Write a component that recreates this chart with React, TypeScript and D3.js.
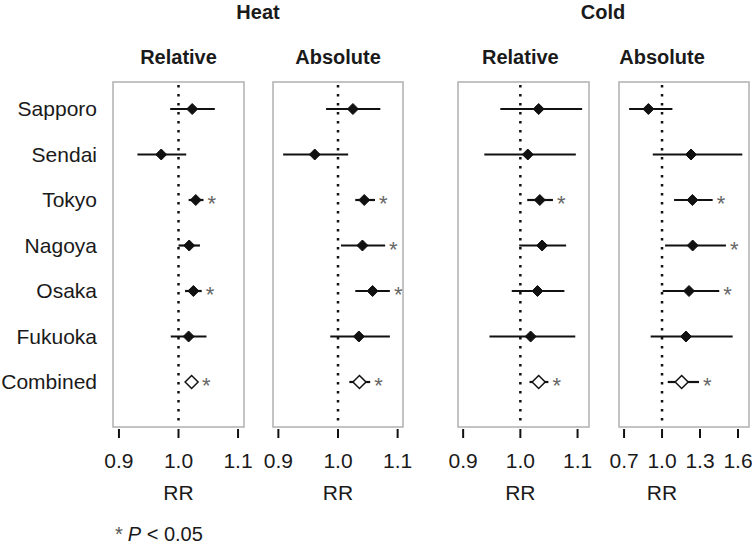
import React from 'react';
import * as d3 from 'd3';

// Cities (rows, top to bottom)
const cities = ['Sapporo', 'Sendai', 'Tokyo', 'Nagoya', 'Osaka', 'Fukuoka', 'Combined'];

// Heat - Relative
const heatRelRR = [1.023, 0.971, 1.029, 1.018, 1.025, 1.017, 1.022];
const heatRelLo = [0.986, 0.931, 1.017, 1.0, 1.011, 0.987, 1.019];
const heatRelHi = [1.061, 1.013, 1.042, 1.036, 1.039, 1.047, 1.025];
const heatRelSig = [false, false, true, false, true, false, true];

// Heat - Absolute
const heatAbsRR = [1.025, 0.961, 1.044, 1.041, 1.058, 1.035, 1.036];
const heatAbsLo = [0.98, 0.908, 1.029, 1.005, 1.029, 0.987, 1.019];
const heatAbsHi = [1.071, 1.017, 1.062, 1.079, 1.087, 1.087, 1.054];
const heatAbsSig = [false, false, true, true, true, false, true];

// Cold - Relative
const coldRelRR = [1.032, 1.013, 1.034, 1.038, 1.03, 1.018, 1.032];
const coldRelLo = [0.965, 0.937, 1.012, 0.998, 0.985, 0.946, 1.016];
const coldRelHi = [1.108, 1.097, 1.057, 1.08, 1.077, 1.096, 1.049];
const coldRelSig = [false, false, true, false, false, false, true];

// Cold - Absolute
const coldAbsRR = [0.892, 1.229, 1.24, 1.242, 1.213, 1.189, 1.155];
const coldAbsLo = [0.74, 0.927, 1.095, 1.024, 1.005, 0.91, 1.045];
const coldAbsHi = [1.082, 1.634, 1.4, 1.505, 1.452, 1.558, 1.292];
const coldAbsSig = [false, false, true, true, true, false, true];

const smallTicks = [0.9, 1.0, 1.1];
const wideTicks = [0.7, 1.0, 1.3, 1.6];

const FONT = '"Liberation Sans", Arial, Helvetica, sans-serif';

interface PanelDef {
  title: string;
  left: number;
  right: number;
  domain: [number, number];
  ticks: number[];
  rr: number[];
  lo: number[];
  hi: number[];
  sig: boolean[];
}

const panels: PanelDef[] = [
  { title: 'Relative', left: 113, right: 244, domain: [0.89, 1.11], ticks: smallTicks, rr: heatRelRR, lo: heatRelLo, hi: heatRelHi, sig: heatRelSig },
  { title: 'Absolute', left: 273, right: 403, domain: [0.891, 1.109], ticks: smallTicks, rr: heatAbsRR, lo: heatAbsLo, hi: heatAbsHi, sig: heatAbsSig },
  { title: 'Relative', left: 458, right: 589, domain: [0.891, 1.12], ticks: smallTicks, rr: coldRelRR, lo: coldRelLo, hi: coldRelHi, sig: coldRelSig },
  { title: 'Absolute', left: 619, right: 749, domain: [0.66, 1.687], ticks: wideTicks, rr: coldAbsRR, lo: coldAbsLo, hi: coldAbsHi, sig: coldAbsSig },
];

const top = 82;
const bottom = 427;

const y = d3.scalePoint<string>().domain(cities).range([109, 382]);

const Panel: React.FC<{ p: PanelDef }> = ({ p }) => {
  const x = d3.scaleLinear().domain(p.domain).range([p.left, p.right]);
  return (
    <g>
      <text x={x(1)} y={64} textAnchor="middle" fontWeight="bold" fontSize={20} fill="#1a1a1a">{p.title}</text>
      <rect x={p.left} y={top} width={p.right - p.left} height={bottom - top} fill="none" stroke="#b0b0b0" strokeWidth={1.5} />
      <line x1={x(1)} x2={x(1)} y1={top + 3} y2={bottom} stroke="#111" strokeWidth={2.5} strokeDasharray="2.5 6.5" />
      {p.ticks.map(t => (
        <g key={t}>
          <line x1={x(t)} x2={x(t)} y1={bottom + 2} y2={bottom + 11} stroke="#111" strokeWidth={2} />
          <text x={x(t)} y={468} textAnchor="middle" fontSize={21} fill="#1a1a1a">{t.toFixed(1)}</text>
        </g>
      ))}
      <text x={x(1)} y={500} textAnchor="middle" fontSize={21} fill="#1a1a1a">RR</text>
      {cities.map((c, i) => {
        const yy = y(c) as number;
        const open = c === 'Combined';
        const s = open ? 6.5 : 5.5;
        const px = x(p.rr[i]);
        const starX = Math.max(x(p.hi[i]), px + s) + 4;
        return (
          <g key={c}>
            <line x1={x(p.lo[i])} x2={x(p.hi[i])} y1={yy} y2={yy} stroke="#111" strokeWidth={2.2} />
            <path
              d={`M${px},${yy - s}L${px + s},${yy}L${px},${yy + s}L${px - s},${yy}Z`}
              fill={open ? '#fff' : '#111'}
              stroke="#111"
              strokeWidth={open ? 1.5 : 1}
            />
            {p.sig[i] && (
              <text x={starX} y={yy + 11} fontSize={22} fill="#666">*</text>
            )}
          </g>
        );
      })}
    </g>
  );
};

export default function App() {
  return (
    <svg width={752} height={546} style={{ position: 'absolute', left: 0, top: 0, background: '#fff' }} fontFamily={FONT}>
      <text x={258} y={19} textAnchor="middle" fontWeight="bold" fontSize={20} fill="#1a1a1a">Heat</text>
      <text x={603} y={19} textAnchor="middle" fontWeight="bold" fontSize={20} fill="#1a1a1a">Cold</text>
      {cities.map(c => (
        <text key={c} x={97} y={(y(c) as number) + 7} textAnchor="end" fontSize={21} fill="#1a1a1a">{c}</text>
      ))}
      {panels.map((p, i) => <Panel key={i} p={p} />)}
      <text x={115} y={541} fontSize={20} fill="#1a1a1a">
        <tspan fill="#555">*</tspan>
        <tspan dx={5} fontStyle="italic">P</tspan>
        <tspan> &lt; 0.05</tspan>
      </text>
    </svg>
  );
}
